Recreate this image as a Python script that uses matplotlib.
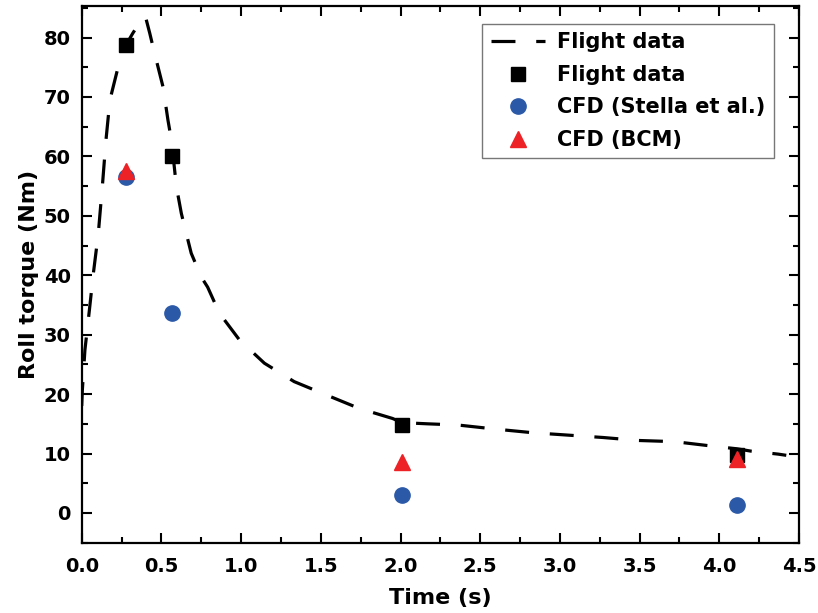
#!/usr/bin/env python3
import matplotlib

matplotlib.use("Agg")
import matplotlib.pyplot as plt
from matplotlib.ticker import FormatStrFormatter, MultipleLocator

# flight data curve (dashed)
flight_t = [0.0, 0.004, 0.02, 0.048, 0.073, 0.104, 0.131, 0.152, 0.177, 0.229,
            0.277, 0.32, 0.375, 0.40, 0.427, 0.452, 0.51, 0.541, 0.563, 0.594,
            0.625, 0.646, 0.687, 0.75, 0.79, 0.864, 0.99, 1.146, 1.333, 1.54,
            1.74, 1.95, 2.01, 2.17, 2.36, 2.60, 2.83, 3.05, 3.27, 3.49,
            3.72, 3.94, 4.11, 4.2, 4.37, 4.42]
flight_torque = [18.0, 20.7, 27.4, 34.1, 40.3, 47.0, 55.5, 62.7, 69.5, 75.1,
                 78.7, 80.7, 83.0, 83.5, 80.7, 77.9, 71.7, 66.1, 62.7, 54.9,
                 50.4, 48.1, 43.7, 39.7, 38.0, 33.6, 29.1, 25.2, 22.1, 19.8,
                 17.6, 15.9, 15.2, 15.0, 14.8, 14.1, 13.5, 13.1, 12.7, 12.2,
                 12.0, 11.3, 10.8, 10.4, 9.9, 9.7]

# discrete points
flight_pts_t = [0.277, 0.564, 2.01, 4.11]
flight_pts_torque = [78.8, 60.0, 14.8, 9.8]

stella_t = [0.277, 0.564, 2.01, 4.11]
stella_torque = [56.5, 33.6, 3.1, 1.3]

bcm_t = [0.277, 2.01, 4.11]
bcm_torque = [57.6, 8.6, 9.0]

plt.rcParams["font.family"] = ["DejaVu Sans"]
plt.rcParams["font.weight"] = "bold"

fig = plt.figure(figsize=(8.18, 6.13), dpi=100)
ax = fig.add_axes([0.0999, 0.1147, 0.8769, 0.8755])

line, = ax.plot(flight_t, flight_torque, color="black", lw=2.3, ls="--", label="Flight data")
line.set_dashes((7.5, 6.5))
ax.plot(flight_pts_t, flight_pts_torque, ls="none", marker="s", ms=9.5, color="black", label="Flight data")
ax.plot(stella_t, stella_torque, ls="none", marker="o", ms=11, color="#2b59a8", label="CFD (Stella et al.)")
ax.plot(bcm_t, bcm_torque, ls="none", marker="^", ms=12, color="#ec2227", label="CFD (BCM)")

ax.set_xlim(0, 4.5)
ax.set_ylim(-5, 85.3)
ax.xaxis.set_major_locator(MultipleLocator(0.5))
ax.xaxis.set_minor_locator(MultipleLocator(0.25))
ax.yaxis.set_minor_locator(MultipleLocator(5))
ax.set_yticks(range(0, 81, 10))
ax.xaxis.set_major_formatter(FormatStrFormatter("%.1f"))

ax.tick_params(which="both", direction="in", top=True, right=True, width=1.5, labelsize=14)
ax.tick_params(axis="x", which="major", length=7, pad=10)
ax.tick_params(axis="y", which="major", length=7, pad=8)
ax.tick_params(which="minor", length=4)
for sp in ax.spines.values():
    sp.set_linewidth(1.6)

ax.set_xlabel("Time (s)", fontsize=16, fontweight="bold", labelpad=9)
ax.set_ylabel("Roll torque (Nm)", fontsize=16, fontweight="bold", labelpad=3)

leg = ax.legend(loc="upper right", bbox_to_anchor=(0.965, 0.9665), borderaxespad=0,
                fontsize=15, handlelength=2.6, handletextpad=0.6, labelspacing=0.6,
                borderpad=0.4, fancybox=False, framealpha=1, edgecolor="#777777")
leg.get_frame().set_linewidth(1.0)

fig.savefig("out.png", dpi=100, facecolor="white")
